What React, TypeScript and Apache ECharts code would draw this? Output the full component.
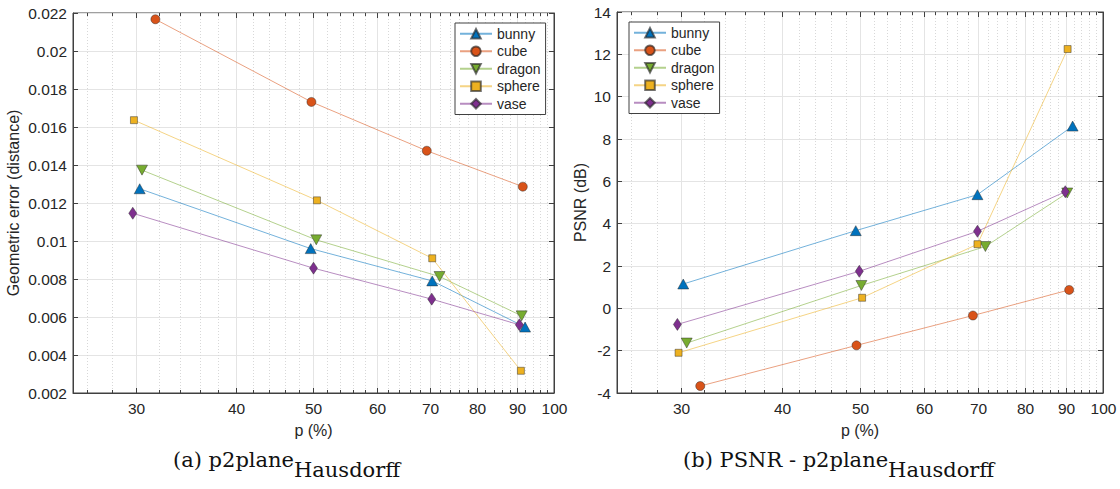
import React, { useEffect, useRef } from "react";
import * as echarts from "echarts";

const NAMES = ["bunny", "cube", "dragon", "sphere", "vase"];
const COLORS = ["#0072BD", "#D95319", "#77AC30", "#EDB120", "#7E2F8E"];
const SYMBOLS = ["triangle", "circle", "path://M0,0L10,0L5,9Z", "rect", "diamond"];
const SIZES: any[] = [[11, 10], 9, [11, 10], 7, [8, 12]];

// (a) p2plane Hausdorff: geometric error (distance) vs p (%)
const A_BUNNY_P = [30.3, 49.6, 70.4, 92.0];
const A_BUNNY_V = [0.01275, 0.0096, 0.0079, 0.00547];
const A_CUBE_P = [31.7, 49.7, 69.3, 91.4];
const A_CUBE_V = [0.02167, 0.01732, 0.01475, 0.01286];
const A_DRAGON_P = [30.5, 50.4, 71.9, 91.1];
const A_DRAGON_V = [0.01373, 0.01006, 0.00813, 0.00606];
const A_SPHERE_P = [29.8, 50.5, 70.4, 90.9];
const A_SPHERE_V = [0.01636, 0.01214, 0.00909, 0.00317];
const A_VASE_P = [29.7, 50.0, 70.3, 90.5];
const A_VASE_V = [0.01146, 0.00857, 0.00694, 0.00559];

// (b) PSNR - p2plane Hausdorff: PSNR (dB) vs p (%)
const B_BUNNY_P = [30.2, 49.4, 69.9, 91.7];
const B_BUNNY_V = [1.15, 3.67, 5.37, 8.61];
const B_CUBE_P = [31.7, 49.5, 69.0, 90.8];
const B_CUBE_V = [-3.67, -1.75, -0.34, 0.87];
const B_DRAGON_P = [30.5, 50.2, 71.5, 90.3];
const B_DRAGON_V = [-1.64, 1.08, 2.92, 5.45];
const B_SPHERE_P = [29.8, 50.3, 69.9, 90.4];
const B_SPHERE_V = [-2.1, 0.5, 3.03, 12.25];
const B_VASE_P = [29.7, 49.9, 69.9, 89.8];
const B_VASE_V = [-0.76, 1.75, 3.64, 5.51];

const P_MAJOR = [30, 40, 50, 60, 70, 80, 90, 100];
const P_MIN = 25;
const P_MAX = 100;

const A_SETS = [
  [A_BUNNY_P, A_BUNNY_V],
  [A_CUBE_P, A_CUBE_V],
  [A_DRAGON_P, A_DRAGON_V],
  [A_SPHERE_P, A_SPHERE_V],
  [A_VASE_P, A_VASE_V],
];
const B_SETS = [
  [B_BUNNY_P, B_BUNNY_V],
  [B_CUBE_P, B_CUBE_V],
  [B_DRAGON_P, B_DRAGON_V],
  [B_SPHERE_P, B_SPHERE_V],
  [B_VASE_P, B_VASE_V],
];

const AXIS_COLOR = "#404040";
const TEXT_COLOR = "#262626";
const SANS = "Liberation Sans";
const SERIF = "DejaVu Serif";

function minorTicks(): number[] {
  const out: number[] = [];
  for (let v = 26; v < 100; v += 2) if (v % 10 !== 0) out.push(v);
  return out;
}

export default function App() {
  const ref = useRef<HTMLDivElement>(null);
  useEffect(() => {
    if (!ref.current) return;
    const chart = echarts.init(ref.current, undefined, { renderer: "svg" });

    const grids = [
      { left: 73, top: 13, width: 481, height: 380 },
      { left: 617, top: 12, width: 486, height: 381 },
    ];
    const yDefs = [
      { min: 0.002, max: 0.022, interval: 0.002, name: "Geometric error (distance)", nameGap: 52 },
      { min: -4, max: 14, interval: 2, name: "PSNR (dB)", nameGap: 29 },
    ];

    const xAxis: any[] = grids.map((_, gi) => ({
      type: "log",
      logBase: 10,
      gridIndex: gi,
      min: P_MIN,
      max: P_MAX,
      name: "p (%)",
      nameLocation: "middle",
      nameGap: 29,
      nameTextStyle: { fontSize: 16, color: TEXT_COLOR, fontFamily: SANS },
      axisLine: { show: true, onZero: false, lineStyle: { color: AXIS_COLOR, width: 1 } },
      axisTick: { show: false },
      axisLabel: { show: false },
      splitLine: { show: false },
      minorTick: { show: false },
    }));

    const yAxis: any[] = [];
    yDefs.forEach((d, gi) => {
      yAxis.push({
        type: "value",
        gridIndex: gi,
        min: d.min,
        max: d.max,
        interval: d.interval,
        name: d.name,
        nameLocation: "middle",
        nameGap: d.nameGap,
        nameTextStyle: { fontSize: 16, color: TEXT_COLOR, fontFamily: SANS },
        axisLine: { show: true, onZero: false, lineStyle: { color: AXIS_COLOR, width: 1 } },
        axisTick: { show: true, inside: true, length: 5, lineStyle: { color: AXIS_COLOR } },
        axisLabel: { fontSize: 15.5, color: TEXT_COLOR, fontFamily: SANS, margin: 6 },
        splitLine: { show: true, lineStyle: { color: "#e4e4e4", width: 1 } },
      });
      yAxis.push({
        type: "value",
        gridIndex: gi,
        position: "right",
        min: d.min,
        max: d.max,
        interval: d.interval,
        axisLine: { show: true, onZero: false, lineStyle: { color: AXIS_COLOR, width: 1 } },
        axisTick: { show: true, inside: true, length: 5, lineStyle: { color: AXIS_COLOR } },
        axisLabel: { show: false },
        splitLine: { show: false },
      });
    });

    const series: any[] = [];
    [A_SETS, B_SETS].forEach((sets, gi) => {
      sets.forEach((s, i) => {
        const [ps, vs] = s;
        series.push({
          type: "line",
          name: NAMES[i],
          xAxisIndex: gi,
          yAxisIndex: gi * 2,
          data: ps.map((p, k) => [p, vs[k]]),
          symbol: SYMBOLS[i],
          symbolSize: SIZES[i],
          showSymbol: true,
          z: 3,
          lineStyle: { color: COLORS[i], width: 1, opacity: 0.55 },
          itemStyle: { color: COLORS[i], borderColor: "rgba(40,40,40,0.65)", borderWidth: 0.7 },
          emphasis: { disabled: true },
        });
      });
    });

    const legendBase = {
      orient: "vertical",
      top: 23,
      padding: [3, 5, 3, 4],
      itemGap: 2,
      itemWidth: 32,
      itemHeight: 12,
      backgroundColor: "#ffffff",
      borderColor: AXIS_COLOR,
      borderWidth: 1,
      selectedMode: false,
      textStyle: { fontSize: 14, color: TEXT_COLOR, fontFamily: SANS, lineHeight: 15.5 },
      data: NAMES,
      z: 10,
    };

    chart.setOption({
      animation: false,
      textStyle: { fontFamily: SANS },
      grid: grids.map((g) => ({
        ...g,
        show: true,
        borderColor: AXIS_COLOR,
        borderWidth: 1,
        backgroundColor: "transparent",
      })),
      xAxis,
      yAxis,
      legend: [
        { ...legendBase, left: 455 },
        { ...legendBase, top: 22, left: 629 },
      ],
      series,
    });

    // x-axis grid lines, ticks and labels placed through the log axis scale
    const elems: any[] = [];
    const minors = minorTicks();
    grids.forEach((g, gi) => {
      const d = yDefs[gi];
      const yBottom = chart.convertToPixel({ yAxisIndex: gi * 2 }, d.min) as number;
      const yTop = chart.convertToPixel({ yAxisIndex: gi * 2 }, d.max) as number;
      const px = (p: number) => Math.round(chart.convertToPixel({ xAxisIndex: gi }, p) as number) + 0.5;
      minors.forEach((p) => {
        const x = px(p);
        elems.push({
          type: "line", silent: true, z: 1,
          shape: { x1: x, y1: yTop, x2: x, y2: yBottom },
          style: { stroke: "#d8d8d8", lineWidth: 1, lineDash: [1, 2] },
        });
        elems.push({
          type: "line", silent: true, z: 2,
          shape: { x1: x, y1: yBottom, x2: x, y2: yBottom - 3 },
          style: { stroke: AXIS_COLOR, lineWidth: 1 },
        });
        elems.push({
          type: "line", silent: true, z: 2,
          shape: { x1: x, y1: yTop, x2: x, y2: yTop + 3 },
          style: { stroke: AXIS_COLOR, lineWidth: 1 },
        });
      });
      P_MAJOR.forEach((p) => {
        const x = px(p);
        if (p < P_MAX) {
          elems.push({
            type: "line", silent: true, z: 1,
            shape: { x1: x, y1: yTop, x2: x, y2: yBottom },
            style: { stroke: "#e4e4e4", lineWidth: 1 },
          });
          elems.push({
            type: "line", silent: true, z: 2,
            shape: { x1: x, y1: yBottom, x2: x, y2: yBottom - 5 },
            style: { stroke: AXIS_COLOR, lineWidth: 1 },
          });
          elems.push({
            type: "line", silent: true, z: 2,
            shape: { x1: x, y1: yTop, x2: x, y2: yTop + 5 },
            style: { stroke: AXIS_COLOR, lineWidth: 1 },
          });
        }
        elems.push({
          type: "text", silent: true, z: 2,
          x: x, y: yBottom + 7,
          style: {
            text: String(p),
            fontSize: 15.5,
            fontFamily: SANS,
            fill: TEXT_COLOR,
            align: "center",
            verticalAlign: "top",
            textAlign: "center",
            textVerticalAlign: "top",
          },
        });
      });
    });

    const captionRich = {
      m: { fontSize: 21, fontFamily: SERIF, fill: "#111", color: "#111", verticalAlign: "top", lineHeight: 24, padding: [0, 0, 10, 0] },
      s: { fontSize: 21, fontFamily: SERIF, fill: "#111", color: "#111", verticalAlign: "top", lineHeight: 24, padding: [10, 0, 0, 0] },
    };
    elems.push({
      type: "text", silent: true, z: 2,
      x: 173, y: 449,
      style: { text: "{m|(a) p2plane}{s|Hausdorff}", rich: captionRich, align: "left", verticalAlign: "top" },
    });
    elems.push({
      type: "text", silent: true, z: 2,
      x: 683, y: 449,
      style: { text: "{m|(b) PSNR - p2plane}{s|Hausdorff}", rich: captionRich, align: "left", verticalAlign: "top" },
    });

    chart.setOption({ graphic: elems });

    return () => chart.dispose();
  }, []);

  return (
    <div
      ref={ref}
      style={{ position: "fixed", left: 0, top: 0, width: 1120, height: 489, background: "#fff" }}
    />
  );
}
